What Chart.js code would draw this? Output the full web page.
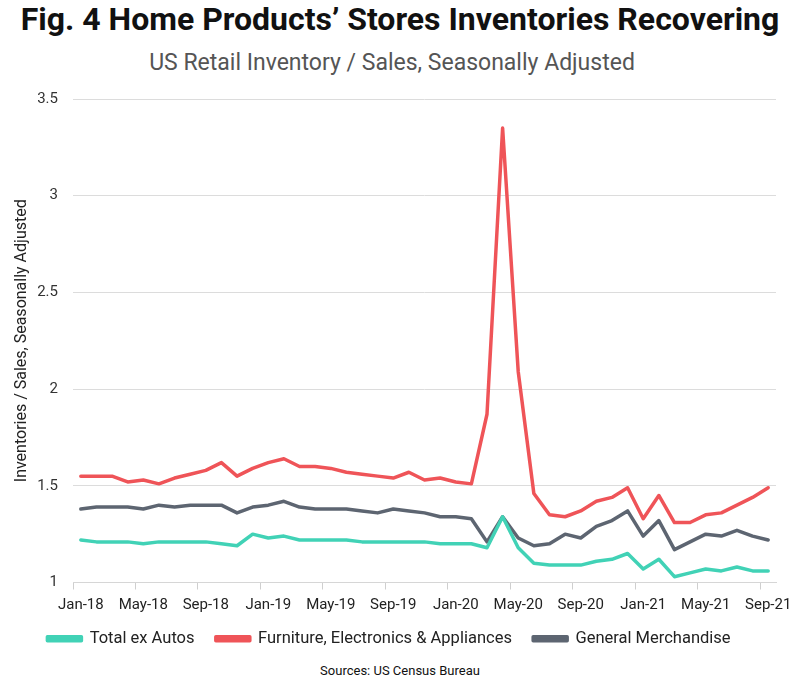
<!DOCTYPE html>
<html>
<head>
<meta charset="utf-8">
<script src="https://cdn.jsdelivr.net/npm/chart.js@4"></script>
<style>
  body { margin: 0; background: #fff; width: 800px; height: 694px; position: relative; overflow: hidden;
         font-family: "Roboto", sans-serif; }
  #title { position: absolute; top: 0; left: 0; width: 800px; text-align: center;
           font-weight: bold; font-size: 32px; line-height: 38px; color: #111; }
  #subtitle { position: absolute; top: 48px; left: 0; width: 784px; text-align: center;
              font-size: 23px; line-height: 30px; color: #555; }
  #wrap { position: absolute; top: 75px; left: 0; width: 800px; height: 582px; }
  #source { position: absolute; top: 662px; left: 0; width: 800px; text-align: center;
            font-size: 13px; line-height: 18px; color: #111; }
</style>
</head>
<body>
<div id="title">Fig. 4 Home Products’ Stores Inventories Recovering</div>
<div id="subtitle">US Retail Inventory / Sales, Seasonally Adjusted</div>
<div id="wrap"><canvas id="chart"></canvas></div>
<div id="source">Sources: US Census Bureau</div>
<script>
// monthly, Jan-18 .. Sep-21
const months = ['Jan','Feb','Mar','Apr','May','Jun','Jul','Aug','Sep','Oct','Nov','Dec'];
const labels = [];
for (let y = 18; y <= 21; y++) {
  for (let m = 0; m < 12; m++) {
    if (y === 21 && m > 8) break;
    labels.push(months[m] + '-' + y);
  }
}

const totalExAutos = [
  1.22, 1.21, 1.21, 1.21, 1.20, 1.21, 1.21, 1.21, 1.21, 1.20, 1.19, 1.25,
  1.23, 1.24, 1.22, 1.22, 1.22, 1.22, 1.21, 1.21, 1.21, 1.21, 1.21, 1.20,
  1.20, 1.20, 1.18, 1.34, 1.18, 1.10, 1.09, 1.09, 1.09, 1.11, 1.12, 1.15,
  1.07, 1.12, 1.03, 1.05, 1.07, 1.06, 1.08, 1.06, 1.06
];
const furnitureElectronics = [
  1.55, 1.55, 1.55, 1.52, 1.53, 1.51, 1.54, 1.56, 1.58, 1.62, 1.55, 1.59,
  1.62, 1.64, 1.60, 1.60, 1.59, 1.57, 1.56, 1.55, 1.54, 1.57, 1.53, 1.54,
  1.52, 1.51, 1.87, 3.35, 2.09, 1.46, 1.35, 1.34, 1.37, 1.42, 1.44, 1.49,
  1.33, 1.45, 1.31, 1.31, 1.35, 1.36, 1.40, 1.44, 1.49
];
const generalMerch = [
  1.38, 1.39, 1.39, 1.39, 1.38, 1.40, 1.39, 1.40, 1.40, 1.40, 1.36, 1.39,
  1.40, 1.42, 1.39, 1.38, 1.38, 1.38, 1.37, 1.36, 1.38, 1.37, 1.36, 1.34,
  1.34, 1.33, 1.21, 1.34, 1.23, 1.19, 1.20, 1.25, 1.23, 1.29, 1.32, 1.37,
  1.24, 1.32, 1.17, 1.21, 1.25, 1.24, 1.27, 1.24, 1.22
];
const yTicks = [1, 1.5, 2, 2.5, 3, 3.5];

const fontFamily = '"Roboto", sans-serif';

function line(label, data, color) {
  return {
    label: label,
    data: data,
    borderColor: color,
    backgroundColor: color,
    borderWidth: 3.5,
    pointRadius: 0,
    tension: 0,
    borderJoinStyle: 'round',
    borderCapStyle: 'round'
  };
}

new Chart(document.getElementById('chart'), {
  type: 'line',
  data: {
    labels: labels,
    datasets: [
      line('Total ex Autos', totalExAutos, '#41d2b6'),
      line('Furniture, Electronics & Appliances', furnitureElectronics, '#ef5458'),
      line('General Merchandise', generalMerch, '#5d6571')
    ]
  },
  options: {
    responsive: true,
    maintainAspectRatio: false,
    animation: false,
    layout: { padding: { left: 2, right: 24, top: 1, bottom: 0 } },
    plugins: {
      legend: {
        position: 'bottom',
        labels: {
          boxWidth: 34,
          boxHeight: 4,
          padding: 9,
          color: '#222',
          font: { family: fontFamily, size: 16.5 },
          // extra trailing space between items, like the original
          generateLabels: (chart) => {
            const items = Chart.defaults.plugins.legend.labels.generateLabels(chart);
            return items.map((it, i) => ({ ...it, text: i < items.length - 1 ? it.text + '   ' : it.text }));
          }
        }
      },
      tooltip: { enabled: false }
    },
    scales: {
      x: {
        offset: true,
        grid: {
          offset: true,
          drawOnChartArea: false,
          tickLength: 7,
          color: (c) => (c.index % 4 === 0 ? '#cfcfcf' : 'rgba(0,0,0,0)')
        },
        border: { display: true, color: '#d6d6d6' },
        ticks: {
          autoSkip: false,
          maxRotation: 0,
          color: '#222',
          padding: 7,
          font: { family: fontFamily, size: 15 },
          callback: function (v, i) { return i % 4 === 0 ? labels[i] : ''; }
        }
      },
      y: {
        min: 1,
        max: 3.5,
        afterBuildTicks: (axis) => { axis.ticks = yTicks.map(v => ({ value: v })); },
        afterFit: (axis) => { axis.width = 71; },
        grid: { color: '#dcdcdc', drawTicks: false },
        border: { display: false },
        ticks: {
          color: '#333',
          padding: 15,
          font: { family: fontFamily, size: 15 },
          callback: (v) => String(v)
        },
        title: {
          display: true,
          text: 'Inventories / Sales, Seasonally Adjusted',
          color: '#222',
          font: { family: fontFamily, size: 16 },
          padding: { top: 10, bottom: 4 }
        }
      }
    }
  }
});
</script>
</body>
</html>
